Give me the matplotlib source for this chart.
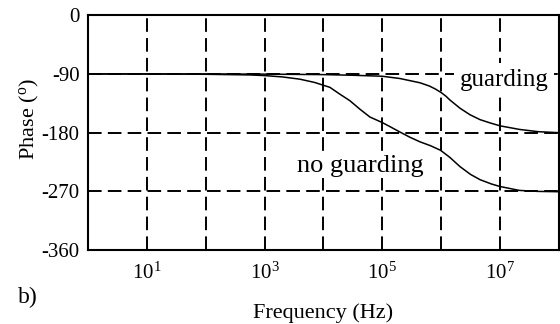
import numpy as np
import matplotlib
matplotlib.use("Agg")
import matplotlib.pyplot as plt

plt.rcParams['font.family'] = ['Liberation Serif', 'DejaVu Serif']
plt.rcParams['mathtext.fontset'] = 'custom'
plt.rcParams['mathtext.rm'] = 'Liberation Serif'

# log10(frequency) and phase in degrees
log_f_noguard = [0, 1, 2, 2.75, 3.0, 3.3, 3.6, 3.85, 4.11, 4.28, 4.45, 4.62,
                 4.79, 5.0, 5.13, 5.3, 5.47, 5.64, 5.82, 5.99, 6.15, 6.32,
                 6.5, 6.66, 6.85, 7.0, 7.33, 7.65, 8.0]
phase_noguard = [-90, -90, -90.5, -91.5, -92.5, -94.5, -98, -103, -110.5,
                 -121, -131, -144, -156, -164.5, -170.7, -179, -187, -194,
                 -200, -207, -218, -232, -244, -252, -258.5, -262.5, -268.5,
                 -270, -270.5]

log_f_guard = [0, 2, 3.0, 4.0, 4.5, 5.0, 5.3, 5.64, 5.8, 5.9, 6.0, 6.08,
               6.15, 6.32, 6.49, 6.66, 6.83, 7.0, 7.33, 7.65, 8.0]
phase_guard = [-90, -90, -90.3, -91, -92, -93.5, -97, -103.5, -108.5, -113,
               -118.5, -124, -130, -142.5, -152.5, -160, -165, -169.5, -175,
               -178.5, -180]

y_ticks = [0, -90, -180, -270, -360]
x_labels = {10: '$\\mathregular{10^{1}}$', 1e3: '$\\mathregular{10^{3}}$',
            1e5: '$\\mathregular{10^{5}}$', 1e7: '$\\mathregular{10^{7}}$'}

fig = plt.figure(figsize=(5.6, 3.24), dpi=100)
ax = fig.add_axes([0.157, 0.228, 0.841, 0.725])

ax.plot(10 ** np.array(log_f_noguard), phase_noguard, color='black', lw=1.1)
ax.plot(10 ** np.array(log_f_guard), phase_guard, color='black', lw=1.1)

ax.set_xscale('log')
ax.set_xlim(1, 1e8)
ax.set_ylim(-360, 0)

dash = (0, (7, 3.2))
for k in range(1, 8):
    ax.axvline(10 ** k, color='black', lw=1.4, ls=dash, zorder=1)
for v in [-90, -180, -270]:
    ax.axhline(v, color='black', lw=1.4, ls=dash, zorder=1)

ax.set_xticks(list(x_labels.keys()))
ax.set_xticklabels(list(x_labels.values()))
ax.xaxis.set_minor_locator(matplotlib.ticker.NullLocator())
ax.set_yticks(y_ticks)
ax.set_yticklabels([str(v) for v in y_ticks])
ax.tick_params(length=0, labelsize=15)
ax.tick_params(axis='y', pad=6)
ax.tick_params(axis='x', pad=9)

for s in ax.spines.values():
    s.set_linewidth(1.5)

ax.set_xlabel('Frequency (Hz)', fontsize=16, labelpad=14)
ax.set_ylabel('Phase ($\\mathregular{^{o}}$)', fontsize=16)
ax.yaxis.set_label_coords(-0.10, 0.56)

ax.text(10 ** 6.32, -108, 'guarding', fontsize=18, va='baseline', ha='left',
        bbox=dict(facecolor='white', edgecolor='none', pad=4), zorder=3)
ax.text(10 ** 3.55, -240, 'no guarding', fontsize=19, va='baseline', ha='left',
        bbox=dict(facecolor='white', edgecolor='none', pad=1), zorder=3)
fig.text(0.032, 0.083, 'b)', fontsize=17, va='center')

fig.savefig('out.png', dpi=100)
